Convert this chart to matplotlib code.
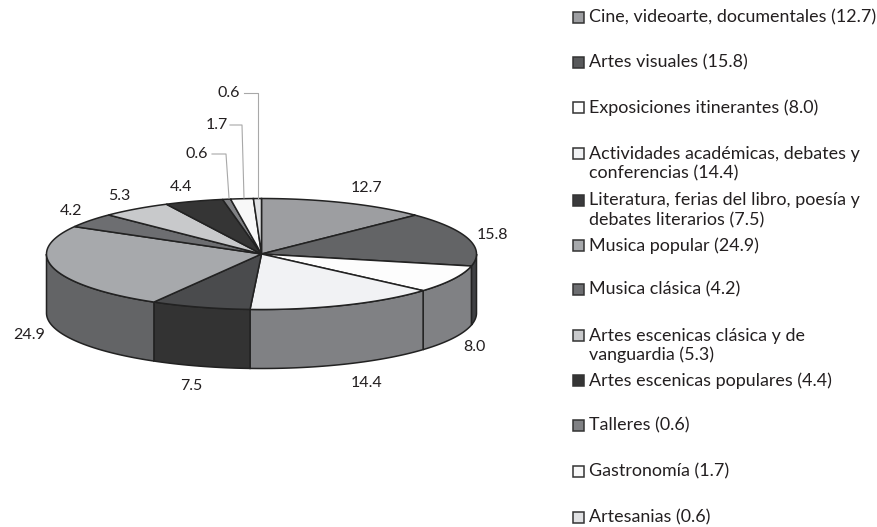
import numpy as np
import matplotlib
matplotlib.use("Agg")
import matplotlib.pyplot as plt
from matplotlib.patches import Polygon, Rectangle

plt.rcParams["font.family"] = ["Lato", "DejaVu Sans"]

categories = [
    "Cine, videoarte, documentales",
    "Artes visuales",
    "Exposiciones itinerantes",
    "Actividades académicas, debates y\nconferencias",
    "Literatura, ferias del libro, poesía y\ndebates literarios",
    "Musica popular",
    "Musica clásica",
    "Artes escenicas clásica y de\nvanguardia",
    "Artes escenicas populares",
    "Talleres",
    "Gastronomía",
    "Artesanias",
]
values = [12.7, 15.8, 8.0, 14.4, 7.5, 24.9, 4.2, 5.3, 4.4, 0.6, 1.7, 0.6]
top_colors = ["#9d9ea1", "#636466", "#fdfdfd", "#f1f2f4", "#4a4b4d", "#a7a9ac",
              "#6d6e71", "#c8c9cb", "#353535", "#808184", "#f8f8f8", "#e0e1e3"]
wall_colors = ["#808184", "#3f4043", "#808184", "#808184", "#333333", "#636466",
               "#636466", "#808184", "#333333", "#808184", "#808184", "#808184"]
legend_colors = ["#9d9ea1", "#58595b", "#fdfdfd", "#f1f2f4", "#3a3a3c", "#a7a9ac",
                 "#6d6e71", "#c8c9cb", "#353535", "#808184", "#f8f8f8", "#e0e1e3"]
legend_y = [17, 62, 107, 153, 200, 245, 289, 335, 380, 425, 471, 517]
label_pos = [(366, 188), (492, 235), (474, 347), (367, 383), (191, 386), (29, 335),
             (71, 211), (119, 196), (181, 187), (197, 154), (217, 125), (229, 93)]
# leader lines for the three small slices
leaders = {
    9: [(212, 154), (226, 154), (229, 198)],
    10: [(230, 125), (242, 125), (244, 198)],
    11: [(244, 93), (258, 93), (258, 198)],
}

CX, CY, RX, RY, DEPTH = 261.5, 254, 215, 55.5, 59
LINE = "#222222"


def rim(t0, t1, n=80):
    t = np.radians(np.linspace(t0, t1, n))
    return CX + RX * np.sin(t), CY - RY * np.cos(t)


fig = plt.figure(figsize=(8.77, 5.27), dpi=100)
ax = fig.add_axes([0, 0, 1, 1])
ax.set_xlim(0, 877)
ax.set_ylim(527, 0)
ax.axis("off")

edges = np.cumsum([0] + values) * 360 / sum(values)

# side wall first, only the front half of the disc shows
for i in range(len(values)):
    t0, t1 = max(edges[i], 90), min(edges[i + 1], 270)
    if t1 <= t0:
        continue
    x, y = rim(t0, t1)
    pts = np.r_[np.c_[x, y], np.c_[x[::-1], y[::-1] + DEPTH]]
    ax.add_patch(Polygon(pts, closed=True, fc=wall_colors[i], ec=LINE, lw=1.1, zorder=2))

for i in range(len(values)):
    x, y = rim(edges[i], edges[i + 1])
    pts = np.r_[[(CX, CY)], np.c_[x, y]]
    ax.add_patch(Polygon(pts, closed=True, fc=top_colors[i], ec=LINE, lw=1.1, zorder=3))

for i, v in enumerate(values):
    lx, ly = label_pos[i]
    ax.text(lx, ly, f"{v:.1f}", fontsize=11.5, color="#231f20", ha="center", va="center")

for pts in leaders.values():
    xs, ys = zip(*pts)
    ax.plot(xs, ys, color="#a8a8a8", lw=0.8, zorder=4)

for i, (name, v) in enumerate(zip(categories, values)):
    y = legend_y[i]
    ax.add_patch(Rectangle((573, y - 5.5), 11, 11, fc=legend_colors[i], ec="#333333", lw=1.1))
    lines = f"{name} ({v:.1f})".split("\n")
    for j, line in enumerate(lines):
        ax.text(589, y + 0.5 + j * 19.5, line, fontsize=12.85, color="#231f20", ha="left", va="center")

fig.savefig("out.png", dpi=100, facecolor="white")
plt.close()
